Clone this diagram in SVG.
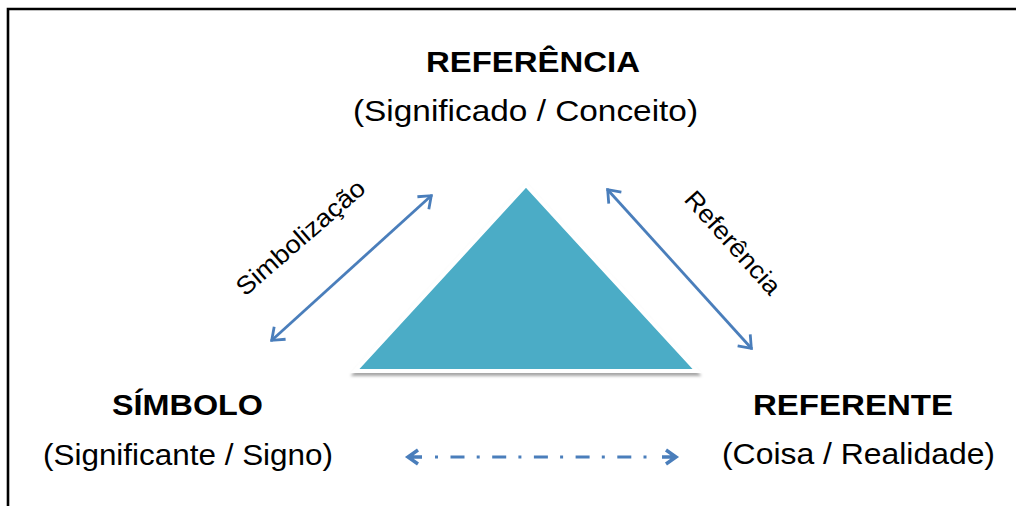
<svg xmlns="http://www.w3.org/2000/svg" width="1016" height="506" viewBox="0 0 1016 506">
<style>
.t{font-family:"Liberation Sans",Arial,sans-serif;fill:#000}
.b{font-weight:bold;font-size:29px}
.r{font-size:29.5px}
.s{font-size:25px}
.c{stroke:#4A7EBB;stroke-width:2.8;fill:none}
.h{stroke:#4A7EBB;stroke-width:2.8;fill:none;stroke-linejoin:miter;stroke-linecap:butt}
</style>
<defs>
<marker id="ah" markerUnits="userSpaceOnUse" viewBox="-15 -11 17 22" refX="0" refY="0" markerWidth="17" markerHeight="22" orient="auto-start-reverse">
<path d="M -12 -8.5 L -1 0 L -12 8.5" class="h"/>
</marker>
<filter id="sh" x="-10%" y="-10%" width="120%" height="130%">
<feDropShadow dx="0" dy="3" stdDeviation="1.5" flood-color="#000" flood-opacity="0.35"/>
</filter>
</defs>
<rect width="1016" height="506" fill="#fff"/>
<path d="M 8 506 L 8 9 L 1016 9" fill="none" stroke="#000" stroke-width="2.6"/>
<g id="triangle">
<polygon points="526,185 355,371 697,371" fill="#4BACC6" stroke="#fff" stroke-width="4" stroke-linejoin="miter" filter="url(#sh)"/>
</g>
<g id="referencia">
<text class="t b" x="426" y="72" textLength="214" lengthAdjust="spacingAndGlyphs">REFERÊNCIA</text>
<text class="t r" x="353" y="121" textLength="345" lengthAdjust="spacingAndGlyphs">(Significado / Conceito)</text>
</g>
<g id="simbolo">
<text class="t b" x="112" y="415" textLength="151" lengthAdjust="spacingAndGlyphs">SÍMBOLO</text>
<text class="t r" x="43" y="465" textLength="290" lengthAdjust="spacingAndGlyphs">(Significante / Signo)</text>
</g>
<g id="referente">
<text class="t b" x="753" y="415" textLength="200" lengthAdjust="spacingAndGlyphs">REFERENTE</text>
<text class="t r" x="722" y="464" textLength="273" lengthAdjust="spacingAndGlyphs">(Coisa / Realidade)</text>
</g>
<g id="connectors">
<line class="c" x1="271" y1="341" x2="432" y2="195" marker-start="url(#ah)" marker-end="url(#ah)"/>
<line class="c" x1="607" y1="189" x2="752" y2="349" marker-start="url(#ah)" marker-end="url(#ah)"/>
<line x1="435" y1="457" x2="649" y2="457" stroke="#4A7EBB" stroke-width="3" stroke-dasharray="3 12.5 14 12.2"/>
<path d="M 418 450 L 408 457 L 418 464 M 408 457 L 422 457" fill="none" stroke="#4A7EBB" stroke-width="3.5"/>
<path d="M 666 450 L 676 457 L 666 464 M 676 457 L 662 457" fill="none" stroke="#4A7EBB" stroke-width="3.5"/>
<text class="t s" transform="translate(245,297) rotate(-41)" textLength="162" lengthAdjust="spacingAndGlyphs">Simbolização</text>
<text class="t s" transform="translate(683,200) rotate(48)" textLength="130" lengthAdjust="spacingAndGlyphs">Referência</text>
</g>
</svg>
